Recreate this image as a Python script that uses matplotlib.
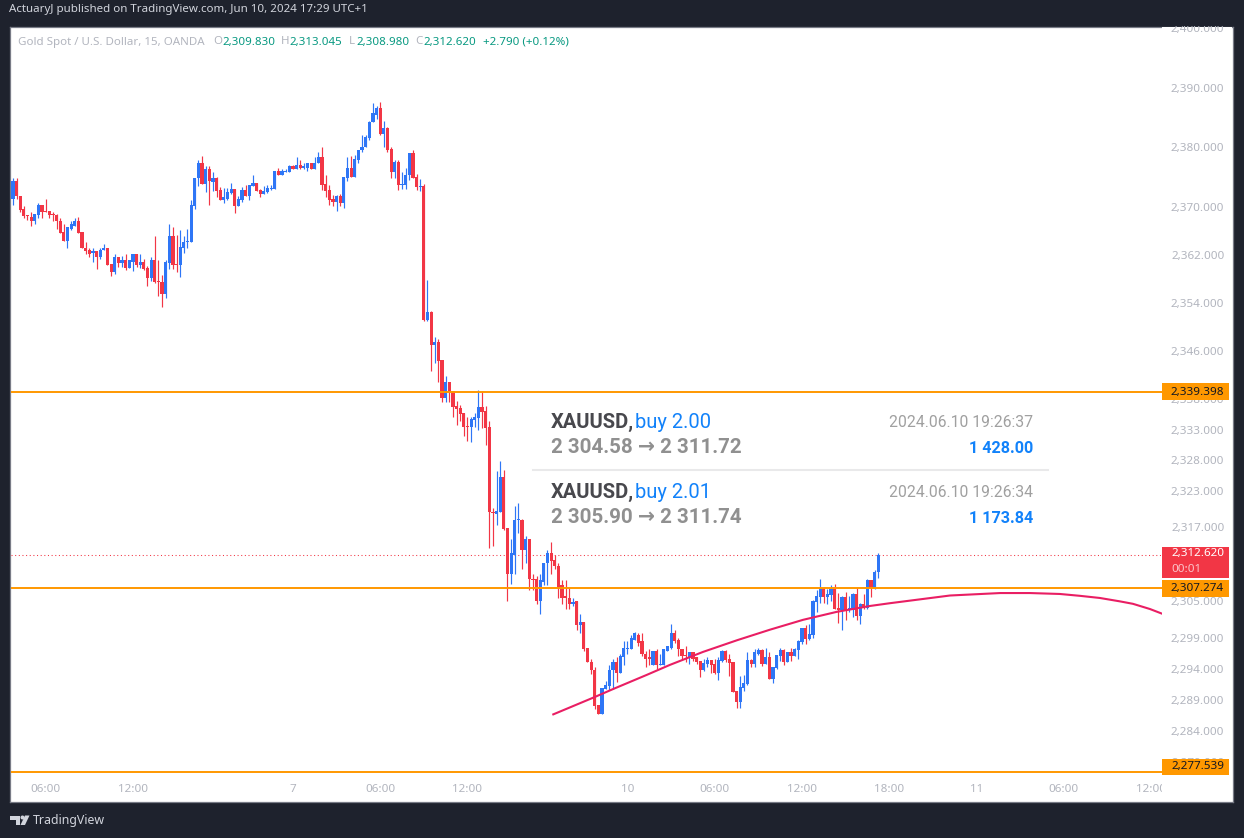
import matplotlib
matplotlib.use('Agg')
import matplotlib.pyplot as plt
from matplotlib.patches import Rectangle, Polygon, Circle
from matplotlib.ticker import NullLocator
from matplotlib.transforms import ScaledTranslation
import numpy as np

W, H = 1244, 838

# 15 minute candles
opens = [
    2367.7, 2371.5, 2374.5, 2372.0, 2369.7, 2368.7, 2368.5, 2367.8, 2368.8, 2370.5,
    2369.5, 2369.5, 2369.0, 2368.8, 2367.8, 2366.0, 2364.5, 2366.5, 2367.0, 2367.7,
    2366.0, 2363.3, 2363.0, 2362.5, 2362.7, 2361.7, 2363.0, 2363.2, 2360.6, 2359.3,
    2361.7, 2360.8, 2361.3, 2360.0, 2361.0, 2362.2, 2360.5, 2361.0, 2360.0, 2358.3,
    2361.2, 2357.8, 2357.6, 2355.6, 2360.8, 2365.2, 2360.6, 2360.5, 2363.3, 2364.2,
    2364.2, 2370.3, 2374.9, 2377.4, 2374.0, 2376.5, 2374.3, 2375.0, 2373.0, 2371.2,
    2371.5, 2372.5, 2373.2, 2370.3, 2371.3, 2373.0, 2372.0, 2373.7, 2374.2, 2373.0,
    2372.3, 2372.7, 2373.2, 2373.2, 2376.2, 2375.5, 2376.0, 2376.0, 2377.0, 2376.5,
    2377.2, 2376.7, 2376.7, 2377.4, 2376.5, 2377.4, 2378.5, 2374.0, 2373.0, 2371.5,
    2371.0, 2372.0, 2370.8, 2375.0, 2376.7, 2375.2, 2378.0, 2379.6, 2380.1, 2381.7,
    2384.3, 2385.6, 2386.8, 2382.4, 2383.4, 2379.9, 2375.9, 2377.7, 2373.8, 2373.8,
    2375.4, 2379.2, 2375.2, 2373.5, 2373.7, 2351.3, 2352.6, 2347.2, 2347.6, 2344.7,
    2338.4, 2341.0, 2339.5, 2337.0, 2336.7, 2335.9, 2333.7, 2333.6, 2334.7, 2335.1,
    2336.9, 2336.2, 2333.6, 2319.7, 2319.4, 2319.7, 2325.4, 2317.1, 2309.5, 2312.7,
    2318.3, 2318.4, 2313.4, 2315.2, 2308.8, 2308.7, 2305.1, 2308.3, 2311.3, 2312.9,
    2311.8, 2310.8, 2307.7, 2305.9, 2305.7, 2304.6, 2305.1, 2301.2, 2301.7, 2297.6,
    2295.3, 2294.0, 2288.3, 2286.9, 2290.9, 2291.4, 2293.9, 2295.3, 2293.5, 2296.1,
    2297.4, 2297.4, 2298.9, 2299.7, 2298.6, 2296.6, 2296.0, 2294.8, 2297.1, 2294.8,
    2294.8, 2297.1, 2297.6, 2299.9, 2298.9, 2297.4, 2296.4, 2296.1, 2296.8, 2296.0,
    2295.5, 2294.0, 2295.0, 2295.6, 2295.0, 2293.5, 2295.5, 2297.1, 2295.8, 2295.3,
    2290.6, 2288.8, 2291.1, 2291.7, 2295.6, 2295.0, 2296.6, 2297.2, 2295.0, 2296.1,
    2292.5, 2294.3, 2296.3, 2297.2, 2295.3, 2296.9, 2296.3, 2297.2, 2298.5, 2300.7,
    2299.0, 2299.7, 2305.0, 2305.8, 2307.3, 2305.8, 2306.2, 2307.1, 2304.1, 2303.7,
    2305.8, 2303.9, 2303.7, 2306.3, 2302.8, 2304.6, 2304.1, 2308.6, 2307.3, 2309.83,
]
highs = [
    2371.9, 2374.9, 2375.0, 2372.0, 2370.2, 2368.7, 2369.3, 2369.0, 2370.7, 2370.5,
    2371.5, 2369.5, 2369.3, 2369.0, 2368.2, 2367.2, 2366.7, 2367.8, 2368.2, 2368.5,
    2366.0, 2364.3, 2363.2, 2363.2, 2362.7, 2363.2, 2364.0, 2363.3, 2360.6, 2362.3,
    2361.8, 2362.0, 2362.2, 2361.3, 2362.2, 2362.2, 2362.2, 2361.5, 2360.3, 2361.7,
    2365.3, 2361.2, 2358.8, 2361.3, 2367.2, 2366.7, 2365.5, 2366.2, 2365.3, 2366.5,
    2371.2, 2375.0, 2378.0, 2378.7, 2376.9, 2377.0, 2375.9, 2375.2, 2373.5, 2373.3,
    2373.3, 2374.2, 2373.2, 2372.0, 2373.5, 2373.8, 2373.8, 2375.5, 2374.2, 2373.2,
    2373.7, 2373.8, 2373.8, 2376.2, 2376.7, 2376.4, 2376.5, 2377.2, 2377.2, 2378.4,
    2377.9, 2377.5, 2377.5, 2377.4, 2378.4, 2379.4, 2380.2, 2375.4, 2373.8, 2372.2,
    2372.2, 2372.3, 2375.2, 2378.4, 2378.7, 2378.9, 2379.7, 2382.1, 2382.1, 2384.6,
    2387.6, 2387.1, 2387.8, 2384.6, 2383.6, 2380.2, 2378.0, 2377.9, 2376.0, 2376.7,
    2379.2, 2379.6, 2375.7, 2374.8, 2374.0, 2357.9, 2352.8, 2348.5, 2348.1, 2344.7,
    2342.0, 2341.0, 2339.5, 2337.9, 2337.2, 2335.9, 2335.2, 2335.2, 2335.9, 2339.7,
    2339.5, 2337.0, 2334.6, 2320.3, 2326.4, 2328.0, 2326.5, 2317.1, 2315.3, 2320.7,
    2321.2, 2318.6, 2315.7, 2315.2, 2309.5, 2309.3, 2309.5, 2311.4, 2313.4, 2314.7,
    2312.7, 2311.3, 2308.5, 2308.5, 2307.4, 2305.7, 2305.2, 2303.0, 2301.7, 2297.6,
    2295.8, 2294.4, 2288.3, 2291.0, 2292.2, 2294.7, 2295.7, 2296.1, 2296.5, 2298.6,
    2298.6, 2299.7, 2300.2, 2300.0, 2300.0, 2297.0, 2297.3, 2297.1, 2297.3, 2296.5,
    2297.3, 2297.8, 2301.5, 2300.4, 2299.1, 2297.4, 2297.9, 2296.8, 2296.9, 2296.0,
    2295.5, 2295.8, 2296.0, 2295.6, 2295.8, 2296.1, 2297.2, 2297.2, 2296.6, 2295.3,
    2290.6, 2293.0, 2293.2, 2296.8, 2295.8, 2297.4, 2297.6, 2297.4, 2297.6, 2296.9,
    2294.5, 2296.4, 2297.6, 2297.4, 2296.9, 2297.6, 2297.6, 2298.9, 2300.7, 2301.3,
    2301.5, 2305.4, 2307.0, 2308.8, 2307.5, 2307.1, 2307.8, 2308.0, 2306.5, 2306.0,
    2306.7, 2306.0, 2306.5, 2307.3, 2304.9, 2306.3, 2308.8, 2308.6, 2310.2, 2313.045,
]
lows = [
    2367.7, 2370.4, 2371.4, 2369.2, 2368.3, 2367.9, 2367.0, 2367.3, 2368.3, 2368.3,
    2369.2, 2368.2, 2367.7, 2366.5, 2365.8, 2364.5, 2363.2, 2366.2, 2367.0, 2365.7,
    2363.2, 2362.3, 2361.8, 2361.0, 2359.8, 2361.5, 2363.0, 2360.5, 2358.6, 2359.0,
    2360.1, 2360.1, 2359.6, 2360.0, 2359.5, 2360.1, 2360.0, 2359.6, 2357.0, 2357.8,
    2357.5, 2355.3, 2353.5, 2355.0, 2359.8, 2359.8, 2359.3, 2358.5, 2362.5, 2363.3,
    2364.2, 2369.7, 2373.7, 2374.0, 2372.7, 2370.5, 2372.8, 2371.7, 2371.2, 2370.8,
    2371.3, 2372.3, 2369.1, 2370.3, 2371.0, 2372.0, 2371.3, 2373.7, 2372.8, 2371.8,
    2372.3, 2372.5, 2373.0, 2373.2, 2375.5, 2375.5, 2376.0, 2376.0, 2376.5, 2376.5,
    2376.5, 2376.4, 2376.2, 2376.5, 2376.4, 2377.4, 2373.0, 2371.7, 2370.5, 2370.3,
    2369.5, 2370.3, 2370.0, 2374.5, 2375.2, 2375.2, 2377.4, 2379.4, 2380.1, 2381.4,
    2384.3, 2384.8, 2382.1, 2380.2, 2379.4, 2375.0, 2375.0, 2373.0, 2373.2, 2373.2,
    2374.7, 2375.0, 2373.0, 2372.8, 2351.1, 2351.1, 2342.8, 2344.2, 2341.0, 2337.7,
    2337.7, 2337.7, 2335.2, 2333.9, 2334.6, 2332.1, 2331.3, 2331.1, 2333.7, 2333.1,
    2333.4, 2330.6, 2313.8, 2314.1, 2317.6, 2319.7, 2316.8, 2305.1, 2307.9, 2309.5,
    2316.2, 2310.3, 2311.4, 2307.0, 2306.9, 2304.6, 2303.1, 2307.7, 2307.7, 2309.6,
    2310.3, 2305.7, 2304.6, 2303.9, 2303.9, 2304.4, 2300.4, 2300.0, 2297.0, 2295.2,
    2293.4, 2287.7, 2286.9, 2286.9, 2290.9, 2290.7, 2290.9, 2292.1, 2293.5, 2294.8,
    2296.5, 2297.3, 2298.9, 2297.8, 2296.3, 2294.4, 2294.8, 2294.8, 2294.2, 2294.7,
    2294.7, 2297.0, 2297.3, 2298.3, 2296.3, 2295.6, 2295.3, 2295.0, 2295.5, 2295.0,
    2292.9, 2293.8, 2294.5, 2293.5, 2293.3, 2292.4, 2295.3, 2295.3, 2293.0, 2290.4,
    2287.8, 2287.8, 2290.6, 2291.6, 2294.5, 2294.5, 2296.4, 2294.6, 2295.0, 2292.5,
    2291.9, 2294.2, 2295.5, 2294.8, 2295.3, 2295.5, 2296.3, 2295.8, 2298.1, 2298.2,
    2298.9, 2299.2, 2303.3, 2304.9, 2304.9, 2304.7, 2305.2, 2303.9, 2301.6, 2300.5,
    2302.0, 2303.3, 2302.6, 2302.1, 2301.5, 2303.9, 2303.9, 2305.8, 2307.1, 2308.98,
]
closes = [
    2371.9, 2374.5, 2371.9, 2369.6, 2368.6, 2368.6, 2367.8, 2369.0, 2370.5, 2369.3,
    2369.3, 2368.8, 2368.7, 2367.7, 2365.8, 2364.5, 2366.7, 2367.2, 2367.7, 2365.8,
    2363.2, 2362.8, 2362.3, 2362.7, 2361.7, 2363.0, 2363.2, 2360.5, 2359.3, 2361.7,
    2360.8, 2361.3, 2360.0, 2361.2, 2362.2, 2360.5, 2361.0, 2359.8, 2358.3, 2361.2,
    2357.6, 2357.6, 2355.6, 2361.0, 2365.2, 2360.5, 2360.5, 2363.5, 2364.3, 2364.3,
    2370.5, 2375.0, 2377.4, 2374.0, 2376.5, 2374.4, 2375.0, 2372.8, 2371.2, 2371.7,
    2372.7, 2373.2, 2370.3, 2371.5, 2373.0, 2372.0, 2373.8, 2374.2, 2372.8, 2372.3,
    2372.8, 2373.3, 2373.3, 2376.2, 2375.5, 2376.2, 2376.2, 2377.0, 2376.5, 2377.2,
    2376.7, 2376.9, 2377.4, 2376.5, 2377.5, 2378.5, 2373.8, 2372.8, 2371.3, 2371.0,
    2372.0, 2370.8, 2375.2, 2376.7, 2375.2, 2378.2, 2379.7, 2380.2, 2381.9, 2384.4,
    2385.8, 2386.8, 2382.4, 2383.4, 2379.7, 2375.9, 2377.7, 2373.8, 2374.0, 2375.5,
    2379.2, 2375.0, 2373.5, 2373.7, 2351.3, 2352.6, 2347.2, 2347.6, 2344.5, 2338.4,
    2341.0, 2339.4, 2336.9, 2336.6, 2335.7, 2333.6, 2333.6, 2334.9, 2335.2, 2336.9,
    2336.1, 2333.4, 2319.7, 2319.5, 2319.9, 2325.4, 2316.9, 2309.5, 2312.9, 2318.4,
    2318.4, 2313.4, 2315.2, 2308.7, 2308.5, 2305.1, 2308.5, 2311.4, 2312.9, 2311.6,
    2310.8, 2307.5, 2305.7, 2305.6, 2304.6, 2305.0, 2301.2, 2301.7, 2297.4, 2295.2,
    2293.9, 2288.2, 2286.9, 2291.0, 2291.6, 2294.0, 2295.3, 2293.5, 2296.3, 2297.6,
    2297.6, 2299.1, 2299.9, 2298.4, 2296.5, 2295.8, 2295.8, 2297.1, 2294.8, 2295.0,
    2297.3, 2297.8, 2299.9, 2298.7, 2297.4, 2296.3, 2296.3, 2296.8, 2295.8, 2295.3,
    2294.0, 2295.1, 2295.6, 2294.8, 2293.5, 2295.6, 2297.1, 2295.6, 2295.1, 2290.4,
    2288.8, 2291.2, 2291.9, 2295.6, 2295.0, 2296.8, 2297.2, 2295.0, 2296.1, 2292.5,
    2294.5, 2296.4, 2297.2, 2295.3, 2296.9, 2296.3, 2297.4, 2298.7, 2300.7, 2299.0,
    2299.8, 2305.2, 2306.0, 2307.3, 2305.8, 2306.3, 2307.1, 2303.9, 2303.7, 2305.8,
    2303.6, 2304.1, 2306.3, 2302.8, 2304.6, 2304.1, 2308.6, 2307.3, 2309.9, 2312.62,
]

# pink curve, x in bars
curve_x = [149.6, 160.6, 166.1, 175.4, 181.7, 190.8, 200.2, 209.2, 218.3, 227.6, 236.7,
           242.2, 258.7, 272.5, 280.7, 288.9, 294.4, 299.9, 305.4, 309.0, 313.7, 317.0]
curve_y = [2286.8, 2289.5, 2290.9, 2293.2, 2294.8, 2296.9, 2298.8, 2300.5, 2302.1, 2303.4, 2304.35,
           2304.8, 2306.05, 2306.45, 2306.45, 2306.3, 2306.0, 2305.65, 2305.1, 2304.7, 2303.85, 2303.1]

levels = [2339.398, 2307.274, 2277.539]
last_price = 2312.62

price_ticks = [2400, 2390, 2380, 2370, 2362, 2354, 2346, 2338, 2333, 2328, 2323, 2317,
               2311, 2305, 2299, 2294, 2289, 2284, 2279]
time_pos = [10, 34, 78, 102, 126, 170, 194, 218, 242, 266, 290, 314]
time_labels = ['06:00', '12:00', '7', '06:00', '12:00', '10', '06:00', '12:00', '18:00', '11', '06:00', '12:00']

BG = '#1e222d'
UP = '#2e76f6'
DOWN = '#f23645'
ORANGE = '#ff9800'
AXIS_TEXT = '#b2b5be'
UI_FONT = ['Noto Sans', 'DejaVu Sans']
TRADE_FONT = ['Roboto', 'DejaVu Sans']


def px_rect(l, t, r, b):
    return [l / W, 1 - b / H, (r - l) / W, (b - t) / H]


fig = plt.figure(figsize=(W / 100, H / 100), dpi=100, facecolor=BG)

frame = fig.add_axes(px_rect(10, 27, 1233, 802), facecolor='white', zorder=0)
frame.set_xticks([])
frame.set_yticks([])
for s in frame.spines.values():
    s.set_color('#787b86')
    s.set_linewidth(0.9)

ax = fig.add_axes(px_rect(10.5, 27, 1162, 778), facecolor='none', zorder=1)
ax.set_yscale('log')
for s in ax.spines.values():
    s.set_visible(False)

x = np.arange(len(opens))
o = np.array(opens)
c = np.array(closes)
cols = [UP if b >= a else DOWN for a, b in zip(o, c)]

ax.vlines(x, lows, highs, colors=cols, linewidth=0.85, zorder=2)
ax.bar(x, np.maximum(np.abs(c - o), 0.17), bottom=np.minimum(o, c), width=0.88, color=cols, linewidth=0, zorder=3)

ax.plot(curve_x, curve_y, color='#e91e63', linewidth=1.5, zorder=5, solid_joinstyle='round')
for lv in levels:
    ax.axhline(lv, color=ORANGE, linewidth=1.4, zorder=4)
ax.axhline(last_price, color=DOWN, linewidth=0.75, linestyle=(0, (1, 2.5)), zorder=1)

ax.set_xlim(0.33, 317.0)
ax.set_ylim(2276.56, 2400.39)
ax.set_yticks([])
ax.yaxis.set_minor_locator(NullLocator())
ax.set_xticks(time_pos)
ax.set_xticklabels(time_labels, fontsize=8.4, color=AXIS_TEXT, family=UI_FONT)
ax.tick_params(axis='x', length=0, pad=4.5)

# price scale sits in its own axes so it cuts off the last time label
pax = fig.add_axes(px_rect(1162, 27, 1232, 801), facecolor='white', zorder=2)
pax.set_yscale('log')
pax.set_ylim(2272.87, 2400.39)
pax.set_xticks([])
for s in pax.spines.values():
    s.set_visible(False)
pax.yaxis.tick_right()
pax.yaxis.set_minor_locator(NullLocator())
pax.set_yticks(price_ticks)
pax.set_yticklabels([f'{p:,.3f}' for p in price_ticks], fontsize=8.4, color=AXIS_TEXT, family=UI_FONT, ha='right')
pax.tick_params(axis='y', length=0, pad=-5.5)
for lab in pax.get_yticklabels():
    lab.set_transform(lab.get_transform() + ScaledTranslation(0, 1 / 100, fig.dpi_scale_trans))

# overlay in pixel coords: header, tags, trade box, logo
over = fig.add_axes([0, 0, 1, 1], facecolor='none', zorder=5)
over.set_xlim(0, W)
over.set_ylim(H, 0)
over.axis('off')

over.add_patch(Rectangle((0, 0), W, 26.5, color=BG, lw=0))
over.text(9, 9.5, 'ActuaryJ published on TradingView.com, Jun 10, 2024 17:29 UTC+1', fontsize=8.3,
          color='#d1d4dc', family=UI_FONT, va='center')

GREY = '#b2b5be'
GREEN = '#089981'
legend_bits = [
    (18, 'Gold Spot / U.S. Dollar, 15, OANDA', GREY),
    (213, 'O', GREY), (222, '2,309.830', GREEN),
    (281, 'H', GREY), (289, '2,313.045', GREEN),
    (349, 'L', GREY), (356, '2,308.980', GREEN),
    (415, 'C', GREY), (423, '2,312.620', GREEN),
    (483, '+2.790 (+0.12%)', GREEN),
]
for lx, txt, col in legend_bits:
    over.text(lx, 42, txt, fontsize=8.3, color=col, family=UI_FONT, va='center')

# price tags
over.add_patch(Rectangle((1162, 383.5), 66.5, 17, color=ORANGE, lw=0))
over.text(1224, 392, '2,339.398', fontsize=8.4, color='#131722', family=UI_FONT, ha='right', va='center')
over.add_patch(Rectangle((1162, 547), 66.5, 31, color=DOWN, lw=0))
over.text(1224, 553.8, '2,312.620', fontsize=8.4, color='white', family=UI_FONT, ha='right', va='center')
over.text(1171, 569, '00:01', fontsize=8.4, color='#fbc4c9', family=UI_FONT, va='center')
over.add_patch(Rectangle((1162, 580), 66.5, 17, color=ORANGE, lw=0))
over.text(1224, 588, '2,307.274', fontsize=8.4, color='#131722', family=UI_FONT, ha='right', va='center')
over.add_patch(Rectangle((1162, 759), 66.5, 15.5, color=ORANGE, lw=0))
over.text(1224, 766.5, '2,277.539', fontsize=8.4, color='#131722', family=UI_FONT, ha='right', va='center')

# trade notes
TXT_DARK = '#48484d'
TXT_GREY = '#909090'
TXT_BLUE = '#1282fa'
over.plot([533, 1048], [469.5, 469.5], color='#e9e9ea', linewidth=1.5)
for top, pair, price, stamp, profit in [
    (422, 'buy 2.00', '2 304.58 → 2 311.72', '2024.06.10 19:26:37', '1 428.00'),
    (492, 'buy 2.01', '2 305.90 → 2 311.74', '2024.06.10 19:26:34', '1 173.84'),
]:
    over.text(551, top, 'XAUUSD,', fontsize=14.5, fontweight='bold', color=TXT_DARK, family=TRADE_FONT, va='center')
    over.text(635, top, pair, fontsize=14.5, color=TXT_BLUE, family=TRADE_FONT, va='center')
    over.text(551, top + 25.5, price, fontsize=14.8, fontweight='bold', color=TXT_GREY, family=TRADE_FONT, va='center')
    over.text(1033, top, stamp, fontsize=11.3, color='#a0a0a0', family=TRADE_FONT, ha='right', va='center')
    over.text(1033, top + 26, profit, fontsize=11.6, fontweight='bold', color=TXT_BLUE, family=TRADE_FONT, ha='right', va='center')

# logo
LOGO = '#d1d4dc'
over.add_patch(Polygon([(10, 815.5), (20, 815.5), (20, 825), (15.5, 825), (15.5, 819.5), (10, 819.5)], color=LOGO, lw=0))
over.add_patch(Circle((22.5, 817.5), 2, color=LOGO, lw=0))
over.add_patch(Polygon([(25, 815.5), (29.5, 815.5), (25, 825), (20.5, 825)], color=LOGO, lw=0))
over.text(33, 820.5, 'TradingView', fontsize=8.9, color=LOGO, family=UI_FONT, va='center')

fig.savefig('out.png', dpi=100, facecolor=BG)
